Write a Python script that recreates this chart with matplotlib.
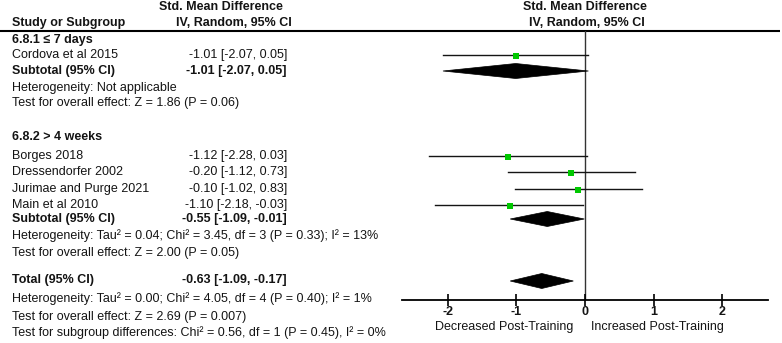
import matplotlib
matplotlib.use("Agg")
import matplotlib.pyplot as plt
from matplotlib.patches import Polygon

plt.rcParams['font.family'] = ['Liberation Sans', 'DejaVu Sans']

# ---------------- data ----------------
studies = ["Cordova et al 2015", "Borges 2018", "Dressendorfer 2002",
           "Jurimae and Purge 2021", "Main et al 2010"]
smd = [-1.01, -1.12, -0.20, -0.10, -1.10]
ci_lo = [-2.07, -2.28, -1.12, -1.02, -2.18]
ci_hi = [0.05, 0.03, 0.73, 0.83, -0.03]

pooled_labels = ["Subtotal (95% CI)", "Subtotal (95% CI)", "Total (95% CI)"]
pooled_est = [-1.01, -0.55, -0.63]
pooled_lo = [-2.07, -1.09, -1.09]
pooled_hi = [0.05, -0.01, -0.17]

group_titles = ["6.8.1 \u2264 7 days", "6.8.2 > 4 weeks"]
stat_lines = [
    "Heterogeneity: Not applicable",
    "Test for overall effect: Z = 1.86 (P = 0.06)",
    "Heterogeneity: Tau\u00b2 = 0.04; Chi\u00b2 = 3.45, df = 3 (P = 0.33); I\u00b2 = 13%",
    "Test for overall effect: Z = 2.00 (P = 0.05)",
    "Heterogeneity: Tau\u00b2 = 0.00; Chi\u00b2 = 4.05, df = 4 (P = 0.40); I\u00b2 = 1%",
    "Test for overall effect: Z = 2.69 (P = 0.007)",
    "Test for subgroup differences: Chi\u00b2 = 0.56, df = 1 (P = 0.45), I\u00b2 = 0%",
]
xticks = [-2, -1, 0, 1, 2]
left_label = "Decreased Post-Training"
right_label = "Increased Post-Training"

# ---------------- layout (pixel rows) ----------------
W, H = 782, 343
study_y = [55, 156, 172, 189, 205]
pooled_y = [71, 219, 281]
group_y = [40, 137]
stat_y = [88, 103, 236, 253, 299, 317, 333]
square_px = [6, 5.7, 6.5, 6.5, 5.5]

TXT = '#141414'
FS = 9.0
fig = plt.figure(figsize=(W / 100, H / 100), dpi=100)

# text layer in pixel coordinates
ax0 = fig.add_axes([0, 0, 1, 1])
ax0.set_xlim(0, W)
ax0.set_ylim(H, 0)
ax0.axis('off')

x_name = 12
x_est = 287
ax0.text(221, 7, "Std. Mean Difference", ha='center', va='center', fontsize=FS, fontweight='bold', color=TXT)
ax0.text(234, 23, "IV, Random, 95% CI", ha='center', va='center', fontsize=FS, fontweight='bold', color=TXT)
ax0.text(x_name, 23, "Study or Subgroup", ha='left', va='center', fontsize=FS, fontweight='bold', color=TXT)
ax0.text(585, 7, "Std. Mean Difference", ha='center', va='center', fontsize=FS, fontweight='bold', color=TXT)
ax0.text(587, 23, "IV, Random, 95% CI", ha='center', va='center', fontsize=FS, fontweight='bold', color=TXT)
ax0.plot([0, 780], [30.5, 30.5], color='black', lw=1.5, solid_capstyle='butt')

for t, y in zip(group_titles, group_y):
    ax0.text(x_name, y, t, ha='left', va='center', fontsize=FS, fontweight='bold', color=TXT)
for name, e, l, h, y in zip(studies, smd, ci_lo, ci_hi, study_y):
    ax0.text(x_name, y, name, ha='left', va='center', fontsize=FS, color=TXT)
    ax0.text(x_est, y, f"{e:.2f} [{l:.2f}, {h:.2f}]", ha='right', va='center', fontsize=FS, color=TXT)
for name, e, l, h, y in zip(pooled_labels, pooled_est, pooled_lo, pooled_hi, pooled_y):
    yy = y - 1 if name.startswith("Total") else y
    ax0.text(x_name, yy, name, ha='left', va='center', fontsize=FS, fontweight='bold', color=TXT)
    ax0.text(x_est, yy, f"{e:.2f} [{l:.2f}, {h:.2f}]", ha='right', va='center', fontsize=FS, fontweight='bold', color=TXT)
for s, y in zip(stat_lines, stat_y):
    ax0.text(x_name, y, s, ha='left', va='center', fontsize=FS, color=TXT)

ax0.text(573, 327, left_label, ha='right', va='center', fontsize=FS, color=TXT)
ax0.text(591, 327, right_label, ha='left', va='center', fontsize=FS, color=TXT)

# forest axes
x_left_px, x_right_px = 402, 768
y_top_px, y_bot_px = 31, 300
ax = fig.add_axes([x_left_px / W, (H - y_bot_px) / H,
                   (x_right_px - x_left_px) / W, (y_bot_px - y_top_px) / H])
ax.set_facecolor('none')
ax.set_xlim(-2.667, 2.667)
ax.set_ylim(y_bot_px, y_top_px)
for sp in ['top', 'right', 'left']:
    ax.spines[sp].set_visible(False)
ax.spines['bottom'].set_linewidth(1.3)
ax.spines['bottom'].set_color('black')
ax.set_yticks([])
ax.set_xticks(xticks)
ax.set_xticklabels([str(v) for v in xticks], fontsize=FS, fontweight='bold', color=TXT)
ax.tick_params(axis='x', direction='inout', length=8, width=1.2, pad=0.5)

ax.axvline(0, color='#333333', lw=1.0, zorder=1)

for e, l, h, y, s in zip(smd, ci_lo, ci_hi, study_y, square_px):
    ax.plot([l, h], [y, y], color=TXT, lw=1.0, zorder=2)
    ax.plot([e], [y + 0.8], marker='s', markersize=s * 0.72, color='#00c800',
            markeredgewidth=0, linestyle='none', zorder=3)

dh = 7.5
for e, l, h, y in zip(pooled_est, pooled_lo, pooled_hi, pooled_y):
    ax.add_patch(Polygon([[l, y], [e, y - dh], [h, y], [e, y + dh]], closed=True,
                         facecolor='black', edgecolor='black', lw=0.5, zorder=3))

fig.savefig("out.png", dpi=100)
